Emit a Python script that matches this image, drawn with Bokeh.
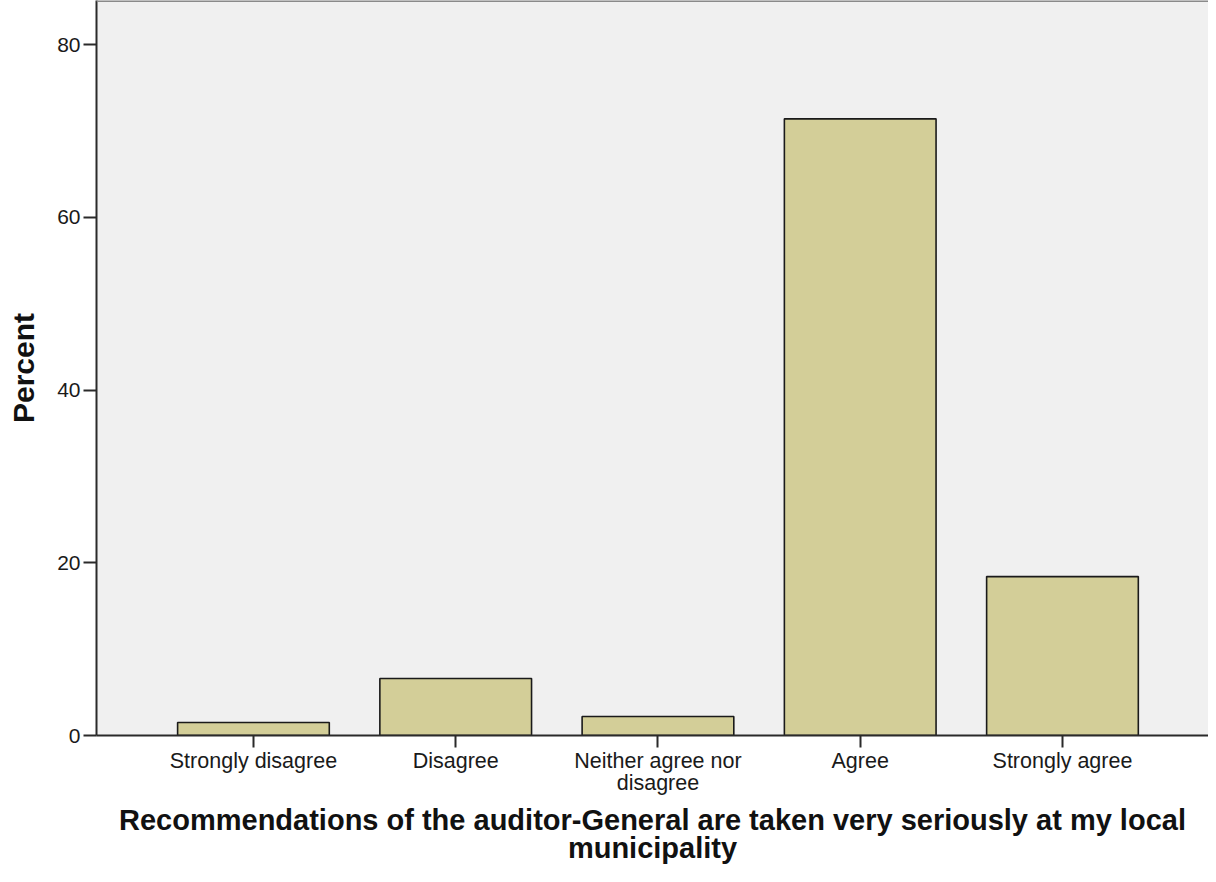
from bokeh.plotting import figure
from bokeh.models import Range1d, FixedTicker, Span
from bokeh.embed import file_html
from bokeh.resources import INLINE

categories = ["Strongly disagree", "Disagree", "Neither agree nor\ndisagree", "Agree", "Strongly agree"]
percent = [1.5, 6.6, 2.2, 71.4, 18.4]
y_ticks = [0, 20, 40, 60, 80]

xs = list(range(1, len(categories) + 1))
y_top = 85.1

p = figure(width=1208, height=866, output_backend="svg", toolbar_location=None,
           x_range=Range1d(1 - 0.776, len(categories) + 0.722),
           y_range=Range1d(0, y_top),
           min_border_left=96, min_border_right=0, min_border_top=0, min_border_bottom=120)

p.background_fill_color = "#f0f0f0"
p.border_fill_color = "white"
p.outline_line_color = None
p.grid.visible = False

p.vbar(x=xs, top=percent, width=0.75, bottom=0,
       fill_color="#d3ce98", line_color="#1a1a1a", line_width=1.6)

p.add_layout(Span(location=y_top, dimension="width", line_color="#8a8a8a", line_width=3))

font = "Liberation Sans"
# x axis
p.xaxis.ticker = FixedTicker(ticks=xs)
p.xaxis.major_label_overrides = {x: c for x, c in zip(xs, categories)}
p.xaxis.axis_line_color = "#2a2a2a"
p.xaxis.axis_line_width = 2
p.xaxis.major_tick_line_color = "#2a2a2a"
p.xaxis.major_tick_line_width = 2
p.xaxis.major_tick_out = 12
p.xaxis.major_tick_in = 0
p.xaxis.minor_tick_line_color = None
p.xaxis.major_label_text_font = font
p.xaxis.major_label_text_font_size = "21.5px"
p.xaxis.major_label_text_line_height = 0.95
p.xaxis.major_label_text_color = "#1a1a1a"
p.xaxis.major_label_standoff = 1
p.xaxis.axis_label = "Recommendations of the auditor-General are taken very seriously at my local\nmunicipality"
p.xaxis.axis_label_text_font = font
p.xaxis.axis_label_text_font_style = "bold"
p.xaxis.axis_label_text_font_size = "29px"
p.xaxis.axis_label_text_line_height = 0.86
p.xaxis.axis_label_text_color = "#111111"
p.xaxis.axis_label_standoff = 6

# y axis
p.yaxis.ticker = FixedTicker(ticks=y_ticks)
p.yaxis.axis_line_color = "#2a2a2a"
p.yaxis.axis_line_width = 2
p.yaxis.major_tick_line_color = "#2a2a2a"
p.yaxis.major_tick_line_width = 2
p.yaxis.major_tick_out = 13
p.yaxis.major_tick_in = 0
p.yaxis.minor_tick_line_color = None
p.yaxis.major_label_text_font = font
p.yaxis.major_label_text_font_size = "21px"
p.yaxis.major_label_text_color = "#1a1a1a"
p.yaxis.major_label_standoff = 3
p.yaxis.axis_label = "Percent"
p.yaxis.axis_label_text_font = font
p.yaxis.axis_label_text_font_style = "bold"
p.yaxis.axis_label_text_font_size = "30px"
p.yaxis.axis_label_text_color = "#111111"
p.yaxis.axis_label_standoff = 14

open("out.html", "w").write(file_html(p, INLINE))
